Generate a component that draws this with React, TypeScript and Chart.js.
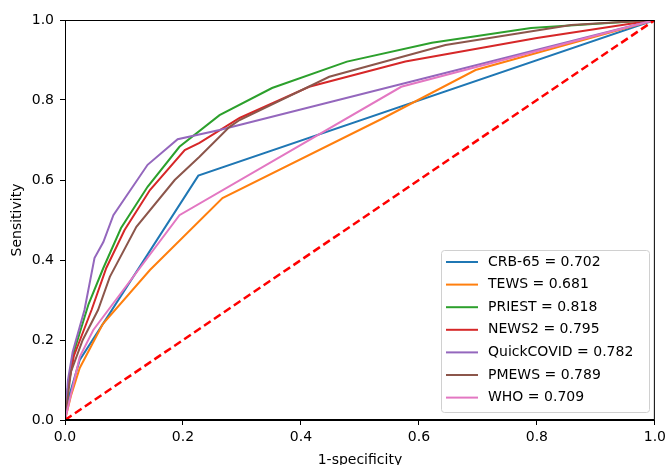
import React, { useEffect, useRef } from "react";
import { Chart, registerables } from "chart.js";

Chart.register(...registerables);

// ROC curve vertices (1-specificity, sensitivity)
const crbX = [0, 0.005, 0.025, 0.226, 1];
const crbY = [0, 0.05, 0.15, 0.611, 1];

const tewsX = [0, 0.01, 0.025, 0.064, 0.144, 0.267, 0.54, 0.696, 1];
const tewsY = [0, 0.06, 0.13, 0.24, 0.375, 0.555, 0.755, 0.875, 1];

const priestX = [0, 0.005, 0.015, 0.04, 0.065, 0.095, 0.14, 0.194, 0.262, 0.351, 0.478, 0.622, 0.79, 1];
const priestY = [0, 0.08, 0.17, 0.29, 0.38, 0.48, 0.583, 0.683, 0.762, 0.83, 0.896, 0.943, 0.98, 1];

const news2X = [0, 0.005, 0.015, 0.045, 0.07, 0.101, 0.144, 0.203, 0.228, 0.296, 0.414, 0.577, 0.8, 1];
const news2Y = [0, 0.08, 0.16, 0.275, 0.38, 0.475, 0.575, 0.675, 0.693, 0.755, 0.833, 0.896, 0.955, 1];

const qcX = [0, 0.005, 0.013, 0.033, 0.05, 0.065, 0.082, 0.14, 0.191, 0.262, 1];
const qcY = [0, 0.1, 0.17, 0.275, 0.405, 0.445, 0.512, 0.638, 0.702, 0.725, 1];

const pmewsX = [0, 0.01, 0.03, 0.056, 0.076, 0.121, 0.186, 0.228, 0.279, 0.296, 0.448, 0.645, 0.858, 1];
const pmewsY = [0, 0.12, 0.2, 0.275, 0.358, 0.483, 0.6, 0.658, 0.733, 0.75, 0.858, 0.9375, 0.9875, 1];

const whoX = [0, 0.025, 0.048, 0.194, 0.57, 1];
const whoY = [0, 0.158, 0.225, 0.512, 0.833, 1];

const refX = [0, 1];
const refY = [0, 1];

const seriesLabels = [
  "CRB-65 = 0.702",
  "TEWS = 0.681",
  "PRIEST = 0.818",
  "NEWS2 = 0.795",
  "QuickCOVID = 0.782",
  "PMEWS = 0.789",
  "WHO = 0.709",
];
const seriesColors = ["#1f77b4", "#ff7f0e", "#2ca02c", "#d62728", "#9467bd", "#8c564b", "#e377c2"];
const seriesX = [crbX, tewsX, priestX, news2X, qcX, pmewsX, whoX];
const seriesY = [crbY, tewsY, priestY, news2Y, qcY, pmewsY, whoY];

const tickValues = [0, 0.2, 0.4, 0.6, 0.8, 1.0];

const FONT = "'DejaVu Sans', sans-serif";

const toPoints = (xs: number[], ys: number[]) => xs.map((x, i) => ({ x, y: ys[i] }));

const framePlugin = {
  id: "frameAndLegend",
  afterDatasetsDraw(chart: any) {
    const { ctx, chartArea } = chart;
    const { left, right, top, bottom } = chartArea;
    ctx.save();
    // Legend
    const bx = 441.5, by = 250.5, bw = 208, bh = 162;
    const r = 3;
    ctx.beginPath();
    ctx.moveTo(bx + r, by);
    ctx.lineTo(bx + bw - r, by);
    ctx.quadraticCurveTo(bx + bw, by, bx + bw, by + r);
    ctx.lineTo(bx + bw, by + bh - r);
    ctx.quadraticCurveTo(bx + bw, by + bh, bx + bw - r, by + bh);
    ctx.lineTo(bx + r, by + bh);
    ctx.quadraticCurveTo(bx, by + bh, bx, by + bh - r);
    ctx.lineTo(bx, by + r);
    ctx.quadraticCurveTo(bx, by, bx + r, by);
    ctx.closePath();
    ctx.fillStyle = "rgba(255,255,255,0.8)";
    ctx.fill();
    ctx.strokeStyle = "#d0d0d0";
    ctx.lineWidth = 1;
    ctx.stroke();
    ctx.font = `14px ${FONT}`;
    ctx.textBaseline = "middle";
    ctx.textAlign = "left";
    seriesLabels.forEach((lab, i) => {
      const yy = 262 + i * 22.6;
      ctx.beginPath();
      ctx.moveTo(446, yy);
      ctx.lineTo(478, yy);
      ctx.strokeStyle = seriesColors[i];
      ctx.lineWidth = 2;
      ctx.stroke();
      ctx.fillStyle = "#000";
      ctx.fillText(lab, 488, yy);
    });
    // Frame
    ctx.strokeStyle = "#000";
    ctx.lineWidth = 1;
    ctx.strokeRect(left + 0.5, top + 0.5, right - left - 1, bottom - top - 1);
    ctx.restore();
  },
};

export default function App() {
  const ref = useRef<HTMLCanvasElement | null>(null);
  useEffect(() => {
    document.body.style.margin = "0";
    if (!ref.current) return;
    const datasets: any[] = seriesLabels.map((lab, i) => ({
      label: lab,
      data: toPoints(seriesX[i], seriesY[i]),
      borderColor: seriesColors[i],
      backgroundColor: seriesColors[i],
      borderWidth: 2,
      pointRadius: 0,
      fill: false,
      tension: 0,
      order: 8 - i,
    }));
    datasets.push({
      label: "ref",
      data: toPoints(refX, refY),
      borderColor: "#ff0000",
      borderWidth: 2.5,
      borderDash: [8, 4],
      pointRadius: 0,
      fill: false,
      order: 0,
    });
    const chart = new Chart(ref.current, {
      type: "line",
      data: { datasets },
      plugins: [framePlugin],
      options: {
        responsive: false,
        animation: false,
        layout: { padding: { top: 20, right: 13, left: 0, bottom: 0 } },
        plugins: { legend: { display: false }, tooltip: { enabled: false } },
        scales: {
          x: {
            type: "linear",
            min: 0,
            max: 1,
            afterFit: (s: any) => { s.height = 45; },
            afterBuildTicks: (s: any) => { s.ticks = tickValues.map((v) => ({ value: v })); },
            ticks: {
              font: { family: FONT, size: 14 },
              color: "#000",
              padding: 4,
              maxRotation: 0,
              callback: (v: any) => Number(v).toFixed(1),
            },
            grid: { drawOnChartArea: false, drawTicks: true, tickLength: 5, color: "#000" },
            border: { color: "#000", width: 1 },
            title: {
              display: true,
              text: "1-specificity",
              font: { family: FONT, size: 14, lineHeight: 0.72 },
              color: "#000",
              padding: { top: 0, bottom: 0 },
            },
          },
          y: {
            type: "linear",
            min: 0,
            max: 1,
            afterFit: (s: any) => { s.width = 65; },
            afterBuildTicks: (s: any) => { s.ticks = tickValues.map((v) => ({ value: v })); },
            ticks: {
              font: { family: FONT, size: 14 },
              color: "#000",
              padding: 6,
              callback: (v: any) => Number(v).toFixed(1),
            },
            grid: { drawOnChartArea: false, drawTicks: true, tickLength: 5, color: "#000" },
            border: { color: "#000", width: 1 },
            title: {
              display: true,
              text: "Sensitivity",
              font: { family: FONT, size: 14 },
              color: "#000",
              padding: { top: 9, bottom: 0 },
            },
          },
        },
      },
    });
    return () => chart.destroy();
  }, []);
  return (
    <div style={{ width: 670, height: 465 }}>
      <canvas ref={ref} width={670} height={465} style={{ display: "block" }} />
    </div>
  );
}
